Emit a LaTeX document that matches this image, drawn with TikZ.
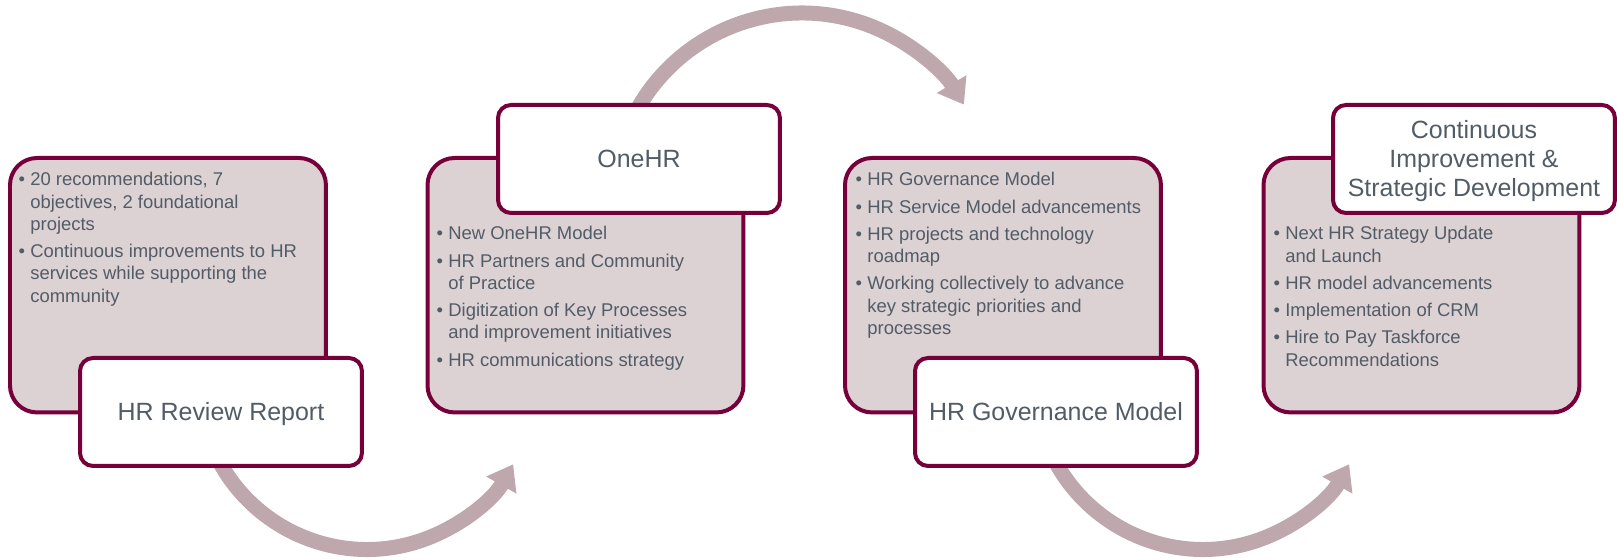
\documentclass[tikz,border=0pt]{standalone}
\usepackage{fontspec}
\setmainfont{Liberation Sans}
\usetikzlibrary{arrows.meta,calc}

\definecolor{boxline}{RGB}{120,0,58}
\definecolor{boxfill}{RGB}{220,209,211}
\definecolor{flow}{RGB}{191,168,173}
\definecolor{ink}{RGB}{82,92,102}

% one drawing unit = 0.02cm
\newdimen\pxu \pxu=0.02cm
\newcommand{\bodyfont}{\fontsize{10.5}{12.65}\selectfont}
\newcommand{\titlefont}{\fontsize{14.2}{16.6}\selectfont}
\newcommand{\itm}{\leavevmode\llap{\textbullet\hspace{3pt}}}
\newcommand{\nxt}{\par\vspace{5\pxu}\itm}
\newcommand{\bodylist}[1]{\parbox[t]{7cm}{\raggedright\bodyfont\itm #1}}

\tikzset{
  bigbox/.style={draw=boxline, line width=0.08cm, fill=boxfill,
    rounded corners=0.54cm, minimum width=6.32cm, minimum height=5.09cm,
    inner sep=0pt, outer sep=0pt, anchor=north west},
  labelbox/.style={draw=boxline, line width=0.08cm, fill=white,
    rounded corners=0.26cm, minimum width=5.64cm, minimum height=2.16cm,
    inner sep=0pt, outer sep=0pt, anchor=north west},
  bodytext/.style={text=ink, inner sep=0pt, anchor=base west},
  titletext/.style={text=ink, inner sep=0pt, anchor=base, font=\titlefont},
  flowarrow/.style={draw=flow, line width=0.3cm,
    -{Triangle[length=0.48cm, width=0.66cm]}},
}

\begin{document}
\begin{tikzpicture}[x=0.02cm, y=-0.02cm]
\useasboundingbox (0,0) rectangle (1617,560);

% curved arrows between the stages, drawn first so the boxes cover their tails
\coordinate (c1) at (367,381.5);
\coordinate (c2) at (802,202);
\coordinate (c3) at (1203,381.5);
\coordinate (a1) at ($(c1)+(200:168\pxu)$);
\coordinate (a2) at ($(c2)+(155:189\pxu)$);
\coordinate (a3) at ($(c3)+(200:168\pxu)$);
\draw[flowarrow] (a1) arc[start angle=200, end angle=330.5, radius=3.36cm];
\draw[flowarrow] (a2) arc[start angle=155, end angle=31, radius=3.78cm];
\draw[flowarrow] (a3) arc[start angle=200, end angle=330.5, radius=3.36cm];

% stage panels
\node[bigbox] (b1) at (10,158) {};
\node[bigbox] (b2) at (427.5,158) {};
\node[bigbox] (b3) at (845,158) {};
\node[bigbox] (b4) at (1263.5,158) {};

% panel contents
\node[bodytext] (t1) at ($(b1.north west)+(20,28)$) {\bodylist{%
  20 recommendations, 7\\objectives, 2 foundational\\projects
  \nxt Continuous improvements to HR\\services while supporting the\\community}};
\node[bodytext] (t2) at ($(b2.north west)+(20.5,82)$) {\bodylist{%
  New OneHR Model
  \nxt HR Partners and Community\\of Practice
  \nxt Digitization of Key Processes\\and improvement initiatives
  \nxt HR communications strategy}};
\node[bodytext] (t3) at ($(b3.north west)+(22,28)$) {\bodylist{%
  HR Governance Model
  \nxt HR Service Model advancements
  \nxt HR projects and technology\\roadmap
  \nxt Working collectively to advance\\key strategic priorities and\\processes}};
\node[bodytext] (t4) at ($(b4.north west)+(21.5,82)$) {\bodylist{%
  Next HR Strategy Update\\and Launch
  \nxt HR model advancements
  \nxt Implementation of CRM
  \nxt Hire to Pay Taskforce\\Recommendations}};

% stage titles
\node[labelbox] (l1) at (80,358) {};
\node[labelbox] (l2) at (498,105) {};
\node[labelbox] (l3) at (915,358) {};
\node[labelbox] (l4) at (1333,105) {};

\node[titletext] (h1) at ($(l1.center)+(0,9)$) {HR Review Report};
\node[titletext] (h2) at ($(l2.center)+(0,9)$) {OneHR};
\node[titletext] (h3) at ($(l3.center)+(0,9)$) {HR Governance Model};
\node[titletext] (h4) at ($(l4.center)+(0,-20.5)$)
  {\parbox[t]{6cm}{\centering\titlefont Continuous\\Improvement \&\\Strategic Development}};
\end{tikzpicture}
\end{document}
